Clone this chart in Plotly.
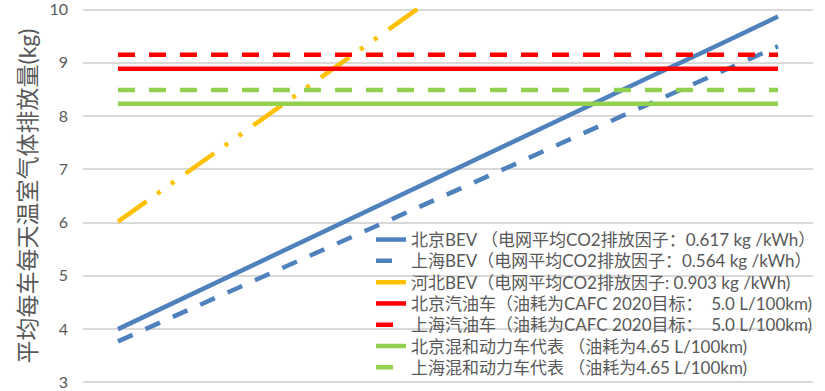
import plotly.graph_objects as go

categories = list(range(11))

series_names = [
    "北京BEV （电网平均CO2排放因子：0.617 kg /kWh）",
    "上海BEV（电网平均CO2排放因子：0.564 kg /kWh）",
    "河北BEV（电网平均CO2排放因子: 0.903 kg /kWh)",
    "北京汽油车（油耗为CAFC 2020目标：\u00a0\u00a05.0 L/100km)",
    "上海汽油车（油耗为CAFC 2020目标：\u00a0\u00a05.0 L/100km)",
    "北京混和动力车代表 （油耗为4.65 L/100km)",
    "上海混和动力车代表 （油耗为4.65 L/100km)",
]

beijing_bev = [4.00, 4.59, 5.17, 5.76, 6.35, 6.94, 7.52, 8.11, 8.70, 9.28, 9.87]
shanghai_bev = [3.77, 4.32, 4.88, 5.43, 5.99, 6.54, 7.09, 7.65, 8.20, 8.76, 9.31]
hebei_bev = [6.02, 6.90, 7.78, 8.66, 9.54, 10.42, 11.30, 12.18, 13.06, 13.94, 14.82]
beijing_gas = [8.89, 8.89, 8.89, 8.89, 8.89, 8.89, 8.89, 8.89, 8.89, 8.89, 8.89]
shanghai_gas = [9.15, 9.15, 9.15, 9.15, 9.15, 9.15, 9.15, 9.15, 9.15, 9.15, 9.15]
beijing_hybrid = [8.23, 8.23, 8.23, 8.23, 8.23, 8.23, 8.23, 8.23, 8.23, 8.23, 8.23]
shanghai_hybrid = [8.49, 8.49, 8.49, 8.49, 8.49, 8.49, 8.49, 8.49, 8.49, 8.49, 8.49]

y_ticks = [3, 4, 5, 6, 7, 8, 9, 10]
y_title = "平均每车每天温室气体排放量(kg)"

values = [beijing_bev, shanghai_bev, hebei_bev, beijing_gas, shanghai_gas, beijing_hybrid, shanghai_hybrid]
colors = ["#4F81BD", "#4F81BD", "#FFC000", "#FF0000", "#FF0000", "#92D050", "#92D050"]
dashes = ["solid", "16px,14px", "35px,13px,4px,13px,4px,14px", "solid", "17px,14px", "solid", "17px,14px"]

FONT = "Lato, 'Noto Sans CJK SC', sans-serif"
W, H = 825, 391
ML, MR, MT, MB = 83, 12, 8, 7
plot_h = H - MT - MB

# legend row centres (pixels from top of figure)
legend_rows_px = [240, 261.3, 282.6, 303.9, 325.2, 346.5, 367.8]
legend_x_px = 371

fig = go.Figure()
layout_legends = {}
for i, (name, vals, c, d) in enumerate(zip(series_names, values, colors, dashes)):
    lname = "legend" if i == 0 else f"legend{i + 1}"
    fig.add_trace(go.Scatter(
        x=categories, y=vals, mode="lines", name=name,
        line=dict(color=c, width=4.5, dash=d),
        legend=lname,
    ))
    layout_legends[lname] = dict(
        x=(legend_x_px - ML) / (W - ML - MR),
        y=(H - MB - legend_rows_px[i]) / plot_h,
        xanchor="left", yanchor="middle",
        bgcolor="rgba(0,0,0,0)",
        font=dict(size=17, color="#595959", family=FONT),
    )

fig.update_layout(
    width=W, height=H,
    margin=dict(l=ML, r=MR, t=MT, b=MB, autoexpand=False),
    paper_bgcolor="white", plot_bgcolor="white",
    font=dict(family=FONT, color="#595959"),
    showlegend=True,
    xaxis=dict(visible=False, range=[-0.53, 10.53]),
    yaxis=dict(
        range=[2.97, 10.03], tickvals=y_ticks,
        showgrid=True, gridcolor="#D9D9D9", gridwidth=1.5,
        zeroline=False, showline=False,
        tickfont=dict(size=16, color="#595959"),
        ticks="", ticklabelstandoff=14, ticklabeloverflow="allow",
        title=dict(text=y_title, font=dict(size=23, color="#595959"), standoff=6),
    ),
    **layout_legends,
)

fig.write_html(
    "out.html",
    config={"displayModeBar": False},
    post_script="document.body.style.margin='0';document.body.style.overflow='hidden';",
)
